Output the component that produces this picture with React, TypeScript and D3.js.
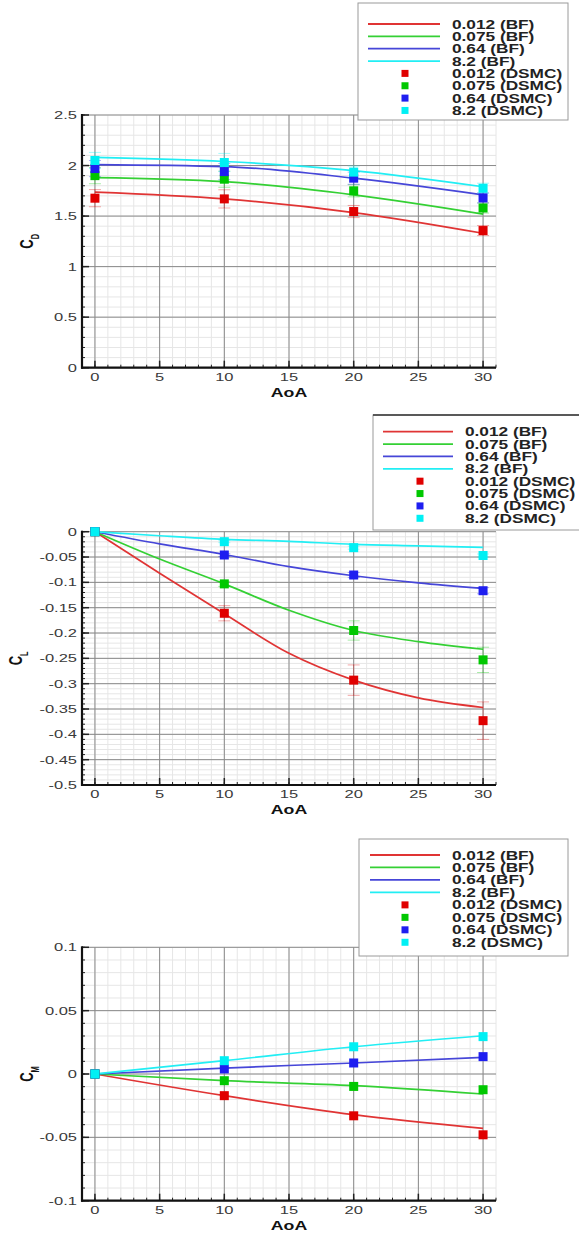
import * as d3 from "d3";
import React from "react";

// Knudsen numbers, one colour per series
const knudsen = ["0.012", "0.075", "0.64", "8.2"];
const lineColors = ["#e03434", "#34d034", "#4646d8", "#22eef4"];
const markColors = ["#e00000", "#00c800", "#1e1ef0", "#00f0f4"];

const dsmcAoa = [0, 10, 20, 30];

// Drag coefficient
const cdBfAoa = [0, 10, 20, 30];
const cdBf = [
  [1.737, 1.67, 1.535, 1.33],
  [1.88, 1.84, 1.71, 1.52],
  [2.01, 1.99, 1.875, 1.71],
  [2.08, 2.04, 1.95, 1.79],
];
const cdDsmc = [
  [1.677, 1.67, 1.545, 1.357],
  [1.9, 1.865, 1.75, 1.58],
  [1.97, 1.94, 1.875, 1.68],
  [2.05, 2.03, 1.935, 1.775],
];
const cdErr = [
  [0.085, 0.09, 0.06, 0.05],
  [0.08, 0.08, 0.06, 0.05],
  [0.08, 0.08, 0.06, 0.05],
  [0.08, 0.09, 0.06, 0.05],
];

// Lift coefficient
const clBfAoa = [0, 5, 10, 15, 20, 25, 30];
const clBf = [
  [0, -0.082, -0.162, -0.24, -0.293, -0.328, -0.347],
  [0, -0.054, -0.103, -0.155, -0.195, -0.217, -0.232],
  [0, -0.024, -0.045, -0.069, -0.087, -0.101, -0.112],
  [0, -0.008, -0.015, -0.019, -0.025, -0.028, -0.031],
];
const clDsmc = [
  [0, -0.161, -0.293, -0.373],
  [0, -0.103, -0.195, -0.253],
  [0, -0.046, -0.0855, -0.1165],
  [0, -0.0197, -0.0315, -0.047],
];
const clErr = [
  [0, 0.015, 0.03, 0.037],
  [0, 0.005, 0.019, 0.025],
  [0, 0.003, 0.005, 0.006],
  [0, 0.002, 0.003, 0.003],
];

// Moment coefficient
const cmBfAoa = [0, 10, 20, 30];
const cmBf = [
  [0, -0.0171, -0.0321, -0.0429],
  [0, -0.0053, -0.0092, -0.0158],
  [0, 0.0047, 0.0087, 0.0131],
  [0, 0.0105, 0.0215, 0.0302],
];
const cmDsmc = [
  [0, -0.0171, -0.033, -0.048],
  [0, -0.0053, -0.0098, -0.0124],
  [0, 0.004, 0.0087, 0.0137],
  [0, 0.0105, 0.0215, 0.0295],
];

const xTicks = [0, 5, 10, 15, 20, 25, 30];
const font = "'Liberation Sans', Arial, sans-serif";

function stepTicks(min, max, step) {
  return d3
    .range(Math.round(min / step), Math.round(max / step) + 1)
    .map((i) => +(i * step).toFixed(6));
}

// text stretched horizontally around its anchor point (the figure's text is drawn wide)
function T({ x, y, children, rotate = 0, sx = 1.42, ...rest }) {
  return (
    <text
      transform={`translate(${x},${y}) scale(${sx},1)${rotate ? ` rotate(${rotate})` : ""}`}
      fontFamily={font}
      {...rest}
    >
      {children}
    </text>
  );
}

function Panel({ top, bottom, yDomain, yMajor, yMinor, sub, yLabelX, bfAoa, bf, dsmc, err, legend }) {
  const left = 82;
  const right = 496;
  const x = d3.scaleLinear().domain([-1, 31]).range([left, right]);
  const y = d3.scaleLinear().domain(yDomain).range([bottom, top]);
  const line = d3
    .line()
    .x((d) => x(d[0]))
    .y((d) => y(d[1]))
    .curve(d3.curveMonotoneX);

  const majors = stepTicks(yDomain[0], yDomain[1], yMajor);
  const minors = stepTicks(yDomain[0], yDomain[1], yMinor);
  const xMinors = d3.range(-1, 32);

  return (
    <g>
      {/* minor grid */}
      <g stroke="#e6e6e6" strokeWidth={1}>
        {xMinors.map((v) => (
          <line key={"xm" + v} x1={x(v)} x2={x(v)} y1={top} y2={bottom} />
        ))}
        {minors.map((v) => (
          <line key={"ym" + v} x1={left} x2={right} y1={y(v)} y2={y(v)} />
        ))}
      </g>
      {/* major grid */}
      <g stroke="#8a8a8a" strokeWidth={1}>
        {xTicks.map((v) => (
          <line key={"xM" + v} x1={x(v)} x2={x(v)} y1={top} y2={bottom} />
        ))}
        {majors.map((v) => (
          <line key={"yM" + v} x1={left} x2={right} y1={y(v)} y2={y(v)} />
        ))}
      </g>
      {/* ticks */}
      <g stroke="#222" strokeWidth={1}>
        {xMinors.map((v) => (
          <line key={"xt" + v} x1={x(v)} x2={x(v)} y1={bottom} y2={bottom - 3} />
        ))}
        {xTicks.map((v) => (
          <line key={"xT" + v} x1={x(v)} x2={x(v)} y1={bottom} y2={bottom - 7} strokeWidth={1.5} />
        ))}
        {minors.map((v) => (
          <line key={"yt" + v} x1={left} x2={left + 3} y1={y(v)} y2={y(v)} />
        ))}
        {majors.map((v) => (
          <line key={"yT" + v} x1={left} x2={left + 7} y1={y(v)} y2={y(v)} strokeWidth={1.5} />
        ))}
      </g>
      {/* axes */}
      <line x1={left} x2={left} y1={top - 1} y2={bottom + 1} stroke="#111" strokeWidth={2.2} />
      <line x1={left - 1} x2={right} y1={bottom} y2={bottom} stroke="#111" strokeWidth={2.2} />
      {/* tick labels */}
      <g fontSize={11} fill="#3a3a3a">
        {xTicks.map((v) => (
          <T key={"xl" + v} sx={1.5} x={x(v)} y={bottom + 13} textAnchor="middle">
            {String(v)}
          </T>
        ))}
        {majors.map((v) => (
          <T key={"yl" + v} sx={1.5} x={left - 5} y={y(v) + 4} textAnchor="end">
            {String(v)}
          </T>
        ))}
      </g>
      <T
        x={(left + right) / 2}
        y={bottom + 29}
        textAnchor="middle"
        fontWeight="bold"
        fontSize={12.5}
        fill="#111"
      >
        AoA
      </T>
      <T
        x={yLabelX}
        y={(top + bottom) / 2}
        rotate={-90}
        textAnchor="middle"
        fontWeight="bold"
        fontSize={13}
        fill="#111"
      >
        C<tspan fontSize={7.5} dy={4}>{sub}</tspan>
      </T>
      {/* BF lines */}
      {bf.map((s, i) => (
        <path
          key={"bf" + i}
          d={line(bfAoa.map((a, j) => [a, s[j]]))}
          fill="none"
          stroke={lineColors[i]}
          strokeWidth={1.7}
        />
      ))}
      {/* DSMC error bars */}
      {err &&
        err.map((s, i) => (
          <g key={"er" + i} stroke={markColors[i]} strokeOpacity={0.35} strokeWidth={1}>
            {s.map((e, j) =>
              e > 0 ? (
                <g key={j}>
                  <line x1={x(dsmcAoa[j])} x2={x(dsmcAoa[j])} y1={y(dsmc[i][j] - e)} y2={y(dsmc[i][j] + e)} />
                  <line x1={x(dsmcAoa[j]) - 6} x2={x(dsmcAoa[j]) + 6} y1={y(dsmc[i][j] - e)} y2={y(dsmc[i][j] - e)} />
                  <line x1={x(dsmcAoa[j]) - 6} x2={x(dsmcAoa[j]) + 6} y1={y(dsmc[i][j] + e)} y2={y(dsmc[i][j] + e)} />
                </g>
              ) : null
            )}
          </g>
        ))}
      {/* DSMC markers */}
      {dsmc.map((s, i) => (
        <g key={"ds" + i} fill={markColors[i]}>
          {s.map((v, j) => (
            <rect key={j} x={x(dsmcAoa[j]) - 4.5} y={y(v) - 4.5} width={9} height={9} />
          ))}
        </g>
      ))}
      <Legend {...legend} />
    </g>
  );
}

function Legend({ bx, by, bw, bh, lx1, lx2, mx, tx, ry, step, topDark }) {
  const rows = [
    ...knudsen.map((k, i) => ({ label: `${k} (BF)`, kind: "line", i })),
    ...knudsen.map((k, i) => ({ label: `${k} (DSMC)`, kind: "mark", i })),
  ];
  return (
    <g>
      <rect x={bx} y={by} width={bw} height={bh} fill="#fff" stroke="#9a9a9a" strokeWidth={1} />
      {topDark && <line x1={bx} x2={bx + bw} y1={by} y2={by} stroke="#333" strokeWidth={1.5} />}
      {rows.map((r, k) => {
        const yy = ry + k * step;
        return (
          <g key={k}>
            {r.kind === "line" ? (
              <line x1={lx1} x2={lx2} y1={yy} y2={yy} stroke={lineColors[r.i]} strokeWidth={1.8} />
            ) : (
              <rect x={mx - 3.5} y={yy - 3.5} width={7} height={7} fill={markColors[r.i]} />
            )}
            <T x={tx} y={yy + 4.5} sx={1.38} fontWeight="bold" fontSize={12.5} fill="#222">
              {r.label}
            </T>
          </g>
        );
      })}
    </g>
  );
}

export default function App() {
  return (
    <svg
      width={579}
      height={1236}
      style={{ position: "absolute", left: 0, top: 0, background: "#fff" }}
    >
      <Panel
        top={115}
        bottom={367.7}
        yDomain={[0, 2.5]}
        yMajor={0.5}
        yMinor={0.1}
        sub="D"
        yLabelX={33}
        bfAoa={cdBfAoa}
        bf={cdBf}
        dsmc={cdDsmc}
        err={cdErr}
        legend={{ bx: 358, by: 3, bw: 210, bh: 117, lx1: 368, lx2: 440, mx: 405, tx: 452, ry: 24, step: 12.35 }}
      />
      <Panel
        top={531.7}
        bottom={785}
        yDomain={[-0.5, 0]}
        yMajor={0.05}
        yMinor={0.01}
        sub="L"
        yLabelX={22}
        bfAoa={clBfAoa}
        bf={clBf}
        dsmc={clDsmc}
        err={clErr}
        legend={{ bx: 373, by: 415, bw: 207, bh: 115, lx1: 383, lx2: 453, mx: 420, tx: 465, ry: 431.7, step: 12.37, topDark: true }}
      />
      <Panel
        top={947.3}
        bottom={1200.7}
        yDomain={[-0.1, 0.1]}
        yMajor={0.05}
        yMinor={0.01}
        sub="M"
        yLabelX={33}
        bfAoa={cmBfAoa}
        bf={cmBf}
        dsmc={cmDsmc}
        err={null}
        legend={{ bx: 359, by: 839, bw: 209, bh: 117, lx1: 370, lx2: 440, mx: 405, tx: 452, ry: 855, step: 12.47 }}
      />
    </svg>
  );
}
